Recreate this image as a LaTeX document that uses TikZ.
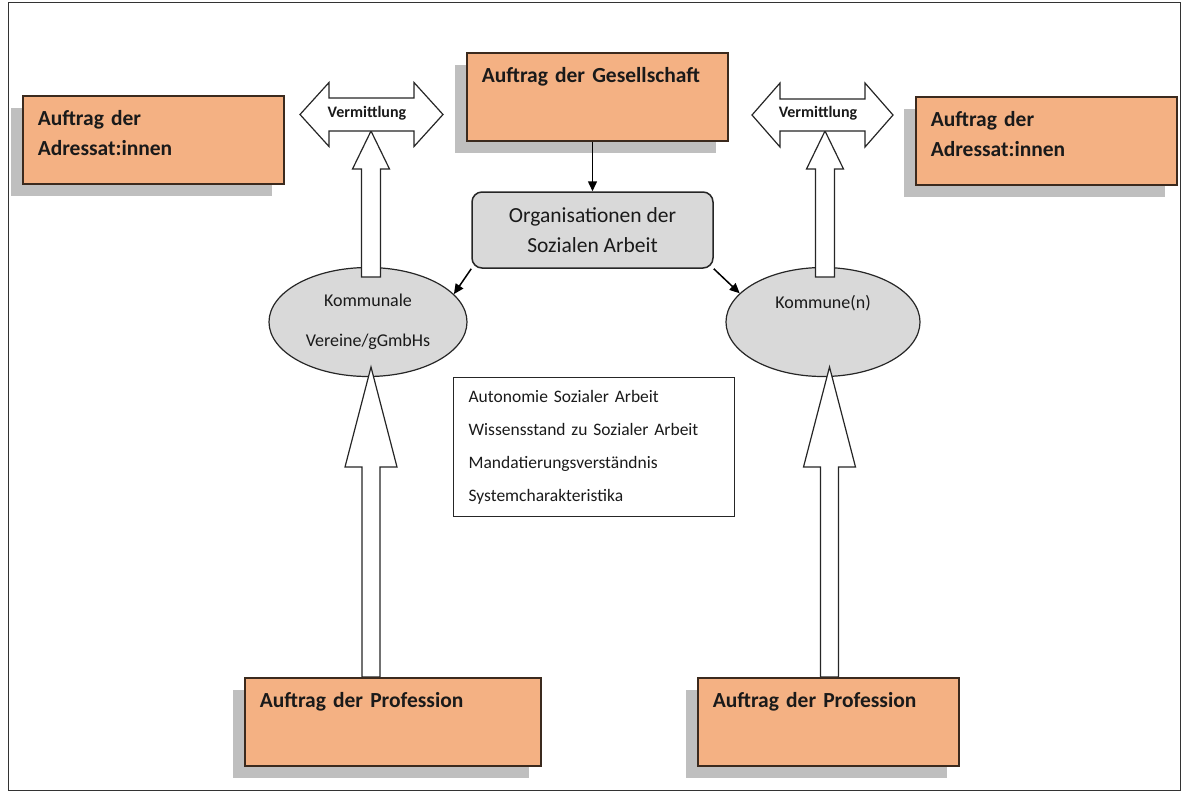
\documentclass[tikz,border=0pt]{standalone}
\usepackage{fontspec}
\setmainfont{Carlito}
\usepackage{xcolor}
\usetikzlibrary{shapes.geometric,arrows.meta,shadows,calc}
\definecolor{auftragorange}{HTML}{F4B183}
\definecolor{rahmenbraun}{HTML}{3B2A1E}
\definecolor{schattengrau}{HTML}{BFBFBF}
\definecolor{hellgrau}{HTML}{D9D9D9}
\definecolor{schrift}{HTML}{1A1A1A}

% block arrow pointing up: start, tip, shaft half width, head half width, head length
\newcommand{\blockpfeil}[5]{%
  \draw[blockarrow] let \p1=(#1), \p2=(#2) in
    (\x1-#3,\y1) -- (\x1-#3,\y2-#5) -- (\x1-#4,\y2-#5) -- (\x1,\y2)
    -- (\x1+#4,\y2-#5) -- (\x1+#3,\y2-#5) -- (\x1+#3,\y1) -- cycle;}
% horizontal double block arrow: centre, half length, shaft half height, head half height, head length
\newcommand{\doppelpfeil}[5]{%
  \draw[blockarrow] let \p1=(#1) in
    (\x1-#2,\y1) -- (\x1-#2+#5,\y1+#4) -- (\x1-#2+#5,\y1+#3) -- (\x1+#2-#5,\y1+#3)
    -- (\x1+#2-#5,\y1+#4) -- (\x1+#2,\y1) -- (\x1+#2-#5,\y1-#4) -- (\x1+#2-#5,\y1-#3)
    -- (\x1-#2+#5,\y1-#3) -- (\x1-#2+#5,\y1-#4) -- cycle;}

\begin{document}
\begin{tikzpicture}[x=1pt,y=-1pt]
  % Styles for boxes and arrows
  \tikzset{auftragbox/.style={draw=rahmenbraun, line width=1.5pt, fill=auftragorange, text=schrift,
      drop shadow={shadow xshift=-12pt, shadow yshift=-12pt, fill=schattengrau, opacity=1},
      anchor=north west, align=left, text width=231pt, inner xsep=15pt, inner ysep=0pt,
      text height=30pt, text depth=58pt, font=\bfseries\fontsize{21.5}{30}\selectfont}}
  \tikzset{graubox/.style={draw=black!85, line width=1.5pt, fill=hellgrau, text=schrift}}
  \tikzset{blockarrow/.style={draw=black!85, fill=white, line width=1.2pt, line join=miter}}
  \tikzset{vermittlung/.style={inner sep=0pt, text=schrift, font=\bfseries\fontsize{16}{16}\selectfont}}
  \tikzset{pfeil/.style={-{Triangle[length=10pt,width=9pt]}, line width=1.5pt, draw=black}}

  \useasboundingbox (0,0) rectangle (1185,796);
  \draw[line width=0.8pt, black!80] (8,2) rectangle (1180,790);

  % Auftraege
  \node[auftragbox] (adrL) at (22,95) {Auftrag der\\Adressat:innen};
  \node[auftragbox] (adrR) at (915,96) {Auftrag der\\Adressat:innen};
  \node[auftragbox] (gesell) at (466,52) {Auftrag der Gesellschaft};

  % Organisationen
  \node[graubox, rounded corners=10pt, minimum width=241pt, minimum height=76pt, align=center,
        font=\fontsize{21.5}{30}\selectfont] (org) at (592.5,230) {Organisationen der\\Sozialen Arbeit};
  \draw[pfeil] (gesell.south -| org.north) -- (org.north);

  % Ellipsen
  \node[graubox, ellipse, line width=1.2pt, minimum width=198pt, minimum height=109pt, inner sep=0pt,
        align=center, font=\fontsize{18}{40}\selectfont] (kommL) at (368,322) {Kommunale\\Vereine/gGmbHs};
  \node[graubox, ellipse, line width=1.2pt, minimum width=194pt, minimum height=109pt, inner sep=0pt,
        align=center, font=\fontsize{18}{40}\selectfont] (kommR) at (823,322) {Kommune(n)\\\mbox{}};
  \draw[pfeil] (org.south west) -- (kommL.18);
  \draw[pfeil] (org.south east) -- (kommR.161);

  % Vermittlung
  \coordinate (obenL) at (371,277);
  \coordinate (spitzeL) at (371,131);
  \coordinate (obenR) at (825,277);
  \coordinate (spitzeR) at (825,131);
  \blockpfeil{obenL}{spitzeL}{9.5}{18.5}{38}
  \blockpfeil{obenR}{spitzeR}{9.5}{18.5}{38}
  \doppelpfeil{371.5,114.5}{71.5}{16.5}{32}{29}
  \doppelpfeil{822.5,115}{70.5}{16}{32}{28}
  \node[vermittlung] (vermL) at (367,113) {Vermittlung};
  \node[vermittlung] (vermR) at (818,113) {Vermittlung};

  % Profession
  \coordinate (untenL) at (371,677);
  \coordinate (tippL) at (371,367);
  \coordinate (untenR) at (829.5,677);
  \coordinate (tippR) at (829.5,367);
  \blockpfeil{untenL}{tippL}{9}{26}{100}
  \blockpfeil{untenR}{tippR}{9}{26}{100}
  \node[auftragbox, text width=266pt] (profL) at (244,677) {Auftrag der Profession};
  \node[auftragbox] (profR) at (697,677) {Auftrag der Profession};

  % Merkmale
  \node[draw=black!85, line width=1.2pt, anchor=north west, align=left, text width=251pt,
        inner xsep=15pt, minimum height=139pt, text=schrift,
        font=\fontsize{17.5}{33}\selectfont] (merkmale) at (453,377)
        {Autonomie Sozialer Arbeit\\Wissensstand zu Sozialer Arbeit\\Mandatierungsverständnis\\Systemcharakteristika};
\end{tikzpicture}
\end{document}
